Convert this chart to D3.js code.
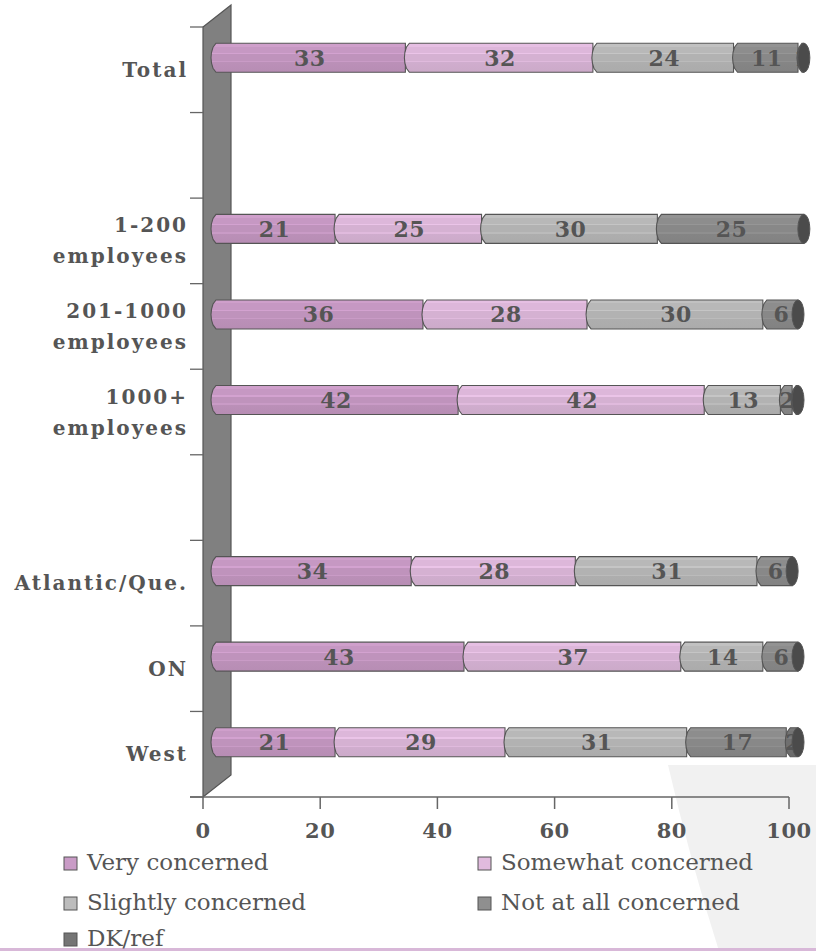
<!DOCTYPE html>
<html><head><meta charset="utf-8">
<script src="https://cdn.jsdelivr.net/npm/d3@7"></script>
<style>html,body{margin:0;padding:0;background:#fff;}svg{display:block;}</style>
</head><body>
<svg id="chart" width="816" height="951"></svg>
<script>
// ---- data ----
const categories = ["Total", "gap1", "1-200 employees", "201-1000 employees", "1000+ employees", "gap2", "Atlantic/Que.", "ON", "West"];
const categoryLines = [["Total"], [], ["1-200", "employees"], ["201-1000", "employees"], ["1000+", "employees"], [], ["Atlantic/Que."], ["ON"], ["West"]];
const seriesNames = ["Very concerned", "Somewhat concerned", "Slightly concerned", "Not at all concerned", "DK/ref"];
const veryConcerned      = [33, null, 21, 36, 42, null, 34, 43, 21];
const somewhatConcerned  = [32, null, 25, 28, 42, null, 28, 37, 29];
const slightlyConcerned  = [24, null, 30, 30, 13, null, 31, 14, 31];
const notAtAllConcerned  = [11, null, 25, 6, 2, null, 6, 6, 17];
const dkRef              = [1, null, 0, 0, 1, null, 0, 0, 2];
const xTicks = [0, 20, 40, 60, 80, 100];
const seriesColors = ["#bf93bc", "#d5b1d2", "#b2b2b2", "#888888", "#6f6f6f"];

const seriesValues = [veryConcerned, somewhatConcerned, slightlyConcerned, notAtAllConcerned, dkRef];

const svg = d3.select("#chart");
const textColor = "#555555";
const serif = "'DejaVu Serif', serif";

const x = d3.scaleLinear().domain([0, 100]).range([203, 789]);
const y = d3.scaleBand().domain(categories).range([27, 797]).paddingInner(0).paddingOuter(0);

const depthX = 28, depthY = -22;
const barDX = 9, barDY = -12, barH = 29;

// background wedge bottom-right
svg.append("path")
  .attr("d", "M668,765 L816,765 L816,951 L719,951 Q690,860 668,765 Z")
  .attr("fill", "#f1f1f1");

// bottom accent line
svg.append("rect").attr("x", 0).attr("y", 948).attr("width", 816).attr("height", 3).attr("fill", "#d8b8d8");

// gradients
const defs = svg.append("defs");
seriesColors.forEach((c, i) => {
  const g = defs.append("linearGradient").attr("id", "grad" + i)
    .attr("x1", 0).attr("y1", 0).attr("x2", 0).attr("y2", 1);
  const b = v => d3.color(c).brighter(v).formatHex();
  const dk = v => d3.color(c).darker(v).formatHex();
  const stops = [
    [0, b(0.22)], [0.12, b(0.22)], [0.12, b(0.1)], [0.33, b(0.1)],
    [0.33, b(0.28)], [0.38, b(0.28)], [0.38, c], [0.62, c],
    [0.62, b(0.14)], [0.66, b(0.14)], [0.66, dk(0.06)], [1, dk(0.12)]
  ];
  stops.forEach(s => g.append("stop").attr("offset", s[0]).attr("stop-color", s[1]));
});

// wall
const wx = x(0), wTop = y.range()[0], wBot = y.range()[1];
svg.append("path")
  .attr("d", `M${wx},${wTop} L${wx + depthX},${wTop + depthY} L${wx + depthX},${wBot + depthY} L${wx},${wBot} Z`)
  .attr("fill", "#808080").attr("stroke", "#555").attr("stroke-width", 1.2);

// left ticks
const boundaries = categories.map(c => y(c)).concat([y.range()[1]]);
svg.selectAll("line.ytick").data(boundaries).join("line")
  .attr("x1", wx - 13).attr("x2", wx).attr("y1", d => d).attr("y2", d => d)
  .attr("stroke", "#666").attr("stroke-width", 1.3);

// bottom axis
svg.append("line").attr("x1", wx - 13).attr("x2", x(100)).attr("y1", wBot).attr("y2", wBot)
  .attr("stroke", "#666").attr("stroke-width", 1.5);
svg.selectAll("line.xtick").data(xTicks).join("line")
  .attr("x1", d => x(d)).attr("x2", d => x(d)).attr("y1", wBot).attr("y2", wBot + 12)
  .attr("stroke", "#666").attr("stroke-width", 1.5);
svg.selectAll("text.xlab").data(xTicks).join("text")
  .attr("x", d => x(d)).attr("y", 838).attr("text-anchor", "middle")
  .attr("font-family", serif).attr("font-weight", "bold").attr("font-size", 21)
  .attr("letter-spacing", 0.5)
  .attr("fill", textColor).text(d => d);

// category labels
categories.forEach((c, i) => {
  const lines = categoryLines[i];
  if (!lines.length) return;
  const cy = y(c) + y.bandwidth() / 2;
  const lh = 31;
  const t = svg.append("text").attr("text-anchor", "end")
    .attr("font-family", serif).attr("font-weight", "bold").attr("font-size", 20)
    .attr("letter-spacing", 2).attr("fill", textColor);
  lines.forEach((ln, j) => {
    t.append("tspan").attr("x", 188)
      .attr("y", cy + 7 + (j - (lines.length - 1) / 2) * lh)
      .text(ln);
  });
});

// bars
const xb = v => x(v) + barDX;
categories.forEach((c, i) => {
  if (veryConcerned[i] == null) return;
  const cy = y(c) + y.bandwidth() / 2 + barDY;
  const yT = cy - barH / 2, yB = cy + barH / 2;
  let cum = 0;
  const segs = [];
  seriesValues.forEach((vals, s) => {
    const v = vals[i];
    if (v > 0) { segs.push({ s, v, x0: cum, x1: cum + v }); cum += v; }
  });
  const g = svg.append("g");
  segs.forEach(sg => {
    const a = xb(sg.x0), b = xb(sg.x1);
    const d = `M${a + 4},${yT} L${b},${yT} L${b},${yB} L${a + 4},${yB} ` +
      `L${a + 1},${yB - 4} Q${a - 3},${cy} ${a + 1},${yT + 4} Z`;
    g.append("path").attr("d", d).attr("fill", `url(#grad${sg.s})`)
      .attr("stroke", "#555").attr("stroke-width", 1.1);
  });
  segs.forEach(sg => {
    g.append("text").attr("x", (xb(sg.x0) + xb(sg.x1)) / 2 + 1).attr("y", cy + 8)
      .attr("text-anchor", "middle").attr("font-family", serif).attr("font-weight", "bold")
      .attr("font-size", 22).attr("letter-spacing", 0.5).attr("fill", textColor).text(sg.v);
  });
  const end = xb(cum);
  g.append("ellipse").attr("cx", end).attr("cy", cy).attr("rx", 6).attr("ry", barH / 2)
    .attr("fill", "#4b4b4b").attr("stroke", "#555").attr("stroke-width", 1);
});

// legend
const legendPos = [[64, 870], [478, 870], [64, 910], [478, 910], [64, 946]];
seriesNames.forEach((n, i) => {
  const [lx, ly] = legendPos[i];
  svg.append("rect").attr("x", lx).attr("y", ly - 13).attr("width", 13).attr("height", 13)
    .attr("fill", d3.color(seriesColors[i]).brighter(0.15).formatHex()).attr("stroke", "#555").attr("stroke-width", 1);
  svg.append("text").attr("x", lx + 23).attr("y", ly)
    .attr("font-family", serif).attr("font-size", 23).attr("fill", textColor).text(n);
});
</script>
</body></html>
